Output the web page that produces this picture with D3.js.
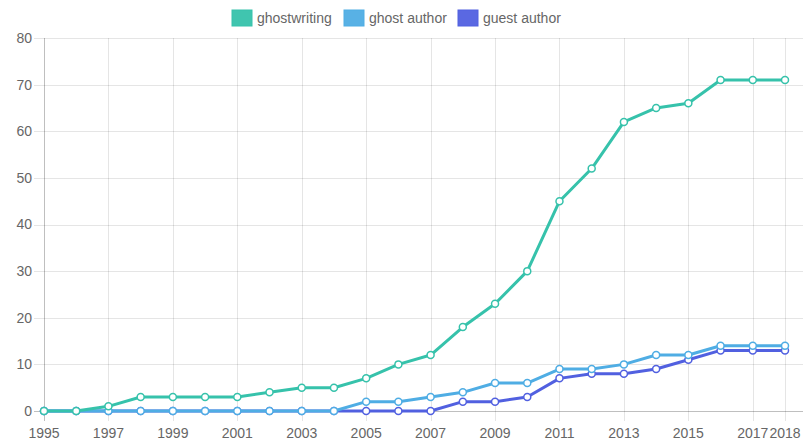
<!DOCTYPE html>
<meta charset="utf-8">
<style>
  body { margin: 0; background: #fff; }
  svg { display: block; font-family: "Liberation Sans", Arial, sans-serif; }
</style>
<svg width="805" height="445"></svg>
<script src="https://d3js.org/d3.v7.min.js"></script>
<script>

var years = [1995, 1996, 1997, 1998, 1999, 2000, 2001, 2002, 2003, 2004, 2005, 2006,
             2007, 2008, 2009, 2010, 2011, 2012, 2013, 2014, 2015, 2016, 2017, 2018];

var ghostwriting = [0, 0, 1, 3, 3, 3, 3, 4, 5, 5, 7, 10, 12, 18, 23, 30, 45, 52, 62, 65, 66, 71, 71, 71];
var ghostAuthor  = [0, 0, 0, 0, 0, 0, 0, 0, 0, 0, 2, 2, 3, 4, 6, 6, 9, 9, 10, 12, 12, 14, 14, 14];
var guestAuthor  = [0, 0, 0, 0, 0, 0, 0, 0, 0, 0, 0, 0, 0, 2, 2, 3, 7, 8, 8, 9, 11, 13, 13, 13];

var seriesNames  = ["ghostwriting", "ghost author", "guest author"];
var seriesColors = ["#36c2ab", "#4fade4", "#5160e0"];
var yTicks = [0, 10, 20, 30, 40, 50, 60, 70, 80];
var xTickYears = [1995, 1997, 1999, 2001, 2003, 2005, 2007, 2009, 2011, 2013, 2015, 2017, 2018];

var svg = d3.select("svg"),
    plotLeft = 44, plotRight = 785, plotTop = 38, plotBottom = 411;

var x = d3.scalePoint().domain(years).range([plotLeft, plotRight]);
var y = d3.scaleLinear().domain([0, 80]).range([plotBottom, plotTop]);

// grid
var grid = svg.append("g");
grid.selectAll("line.h").data(yTicks).enter().append("line")
    .attr("x1", plotLeft - 10).attr("x2", 803)
    .attr("y1", function(d) { return Math.round(y(d)) + 0.5; })
    .attr("y2", function(d) { return Math.round(y(d)) + 0.5; })
    .attr("stroke", function(d) { return d === 0 ? "rgba(0,0,0,0.25)" : "rgba(0,0,0,0.1)"; });
grid.selectAll("line.v").data(xTickYears).enter().append("line")
    .attr("x1", function(d) { return Math.round(x(d)) + 0.5; })
    .attr("x2", function(d) { return Math.round(x(d)) + 0.5; })
    .attr("y1", plotTop).attr("y2", plotBottom + 10)
    .attr("stroke", function(d) { return d === 1995 ? "rgba(0,0,0,0.25)" : "rgba(0,0,0,0.1)"; });

// tick labels
svg.append("g").selectAll("text").data(yTicks).enter().append("text")
    .attr("x", plotLeft - 12).attr("y", function(d) { return y(d); })
    .attr("dy", "0.35em").attr("text-anchor", "end")
    .attr("font-size", 14).attr("fill", "#666")
    .text(function(d) { return d; });
svg.append("g").selectAll("text").data(xTickYears).enter().append("text")
    .attr("x", function(d) { return x(d); }).attr("y", 438)
    .attr("text-anchor", "middle")
    .attr("font-size", 14).attr("fill", "#666")
    .text(function(d) { return d; });

// series, last dataset drawn first
var data = [ghostwriting, ghostAuthor, guestAuthor];
var line = d3.line()
    .x(function(d, i) { return x(years[i]); })
    .y(function(d) { return y(d); });

for (var s = data.length - 1; s >= 0; s--) {
  var g = svg.append("g");
  g.append("path").datum(data[s])
      .attr("d", line)
      .attr("fill", "none")
      .attr("stroke", seriesColors[s])
      .attr("stroke-width", 3)
      .attr("stroke-linejoin", "round");
  g.selectAll("circle").data(data[s]).enter().append("circle")
      .attr("cx", function(d, i) { return x(years[i]); })
      .attr("cy", function(d) { return y(d); })
      .attr("r", 3.5)
      .attr("fill", "#fff")
      .attr("stroke", seriesColors[s])
      .attr("stroke-width", 1.5);
}

// legend
var legendX = [232, 344, 458];
var legend = svg.append("g");
seriesNames.forEach(function(name, i) {
  legend.append("rect")
      .attr("x", legendX[i]).attr("y", 10).attr("width", 20).attr("height", 16)
      .attr("fill", seriesColors[i]).attr("fill-opacity", 0.95)
      .attr("stroke", seriesColors[i]);
  legend.append("text")
      .attr("x", legendX[i] + 25).attr("y", 23)
      .attr("font-size", 14).attr("fill", "#666")
      .text(name);
});

</script>
